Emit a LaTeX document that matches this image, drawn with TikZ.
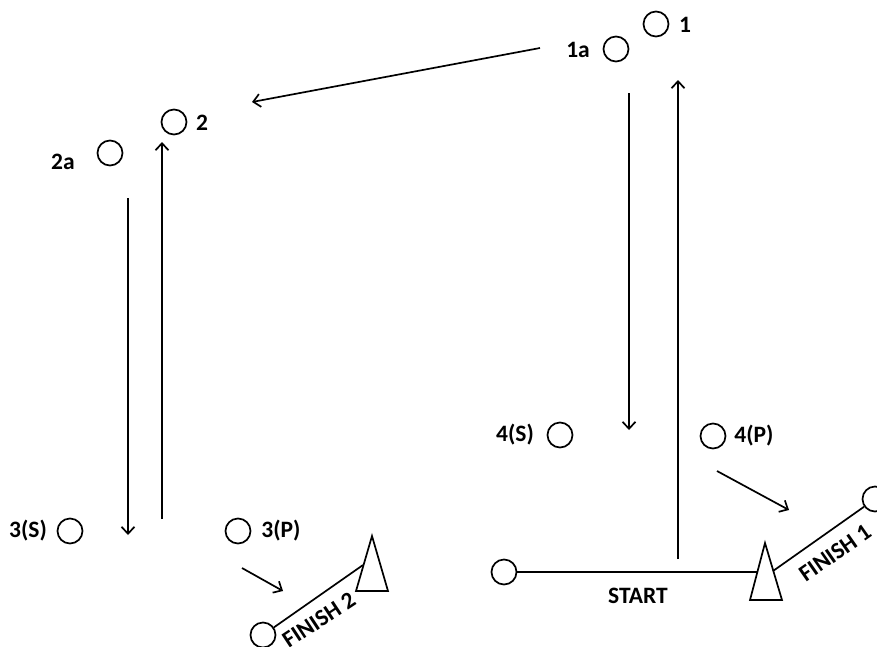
\documentclass[tikz,border=0pt]{standalone}
\usepackage{fontspec}
\setmainfont{Carlito}
\usetikzlibrary{arrows.meta}
\begin{document}
\begin{tikzpicture}[x=1pt,y=-1pt,line width=1.7pt,
  cone/.style={circle,draw,minimum size=25pt,inner sep=0pt},
  lab/.style={font=\bfseries\fontsize{23.5}{24}\selectfont,inner sep=0pt},
  arr/.style={-{Straight Barb[length=7pt,width=13pt,line width=1.7pt]}}]
\clip (0,0) rectangle (877,646);
\path[use as bounding box] (0,0) rectangle (877,646);
% cones
\node[cone] (c1) at (656,24) {};
\node[lab] (l1) at (685,25) {1};
\node[cone] (c1a) at (616,49) {};
\node[lab] (l1a) at (578,50) {1a};
\node[cone] (c2) at (174,122) {};
\node[lab] (l2) at (202,123) {2};
\node[cone] (c2a) at (110,153) {};
\node[lab] (l2a) at (63,162) {2a};
\node[cone] (c3s) at (70,531) {};
\node[lab] (l3s) at (28,531) {3(S)};
\node[cone] (c3p) at (238,531) {};
\node[lab] (l3p) at (281,531) {3(P)};
\node[cone] (c4s) at (560,435) {};
\node[lab] (l4s) at (515,435) {4(S)};
\node[cone] (c4p) at (713,436) {};
\node[lab] (l4p) at (754,436) {4(P)};
% start line
\node[cone] (cs) at (504,572) {};
\coordinate (t1a) at (765,543);
\coordinate (t1l) at (750,600);
\coordinate (t1r) at (782,600);
\draw (t1a) -- (t1l) -- (t1r) -- cycle;
\coordinate (sE) at (757,572);
\draw (cs) -- (sE);
\node[lab] (lstart) at (638,596) {START};
% finish 1
\node[cone] (cf1) at (875,499) {};
\coordinate (f1s) at (773,571);
\draw (f1s) -- (cf1);
\node[lab,rotate=35] (lf1) at (835,553) {FINISH 1};
% finish 2
\coordinate (t2a) at (372,536);
\coordinate (t2l) at (356,591);
\coordinate (t2r) at (388,591);
\draw (t2a) -- (t2l) -- (t2r) -- cycle;
\node[cone] (cf2) at (263,635) {};
\coordinate (f2s) at (363,565);
\draw (f2s) -- (cf2);
\node[lab,rotate=33.4] (lf2) at (319,620) {FINISH 2};
% arrows
\coordinate (a1s) at (678,559); \coordinate (a1e) at (678,80);
\draw[arr] (a1s) -- (a1e);
\coordinate (a2s) at (629,93); \coordinate (a2e) at (629,430);
\draw[arr] (a2s) -- (a2e);
\coordinate (a3s) at (540,48); \coordinate (a3e) at (252,102);
\draw[arr] (a3s) -- (a3e);
\coordinate (a4s) at (128,198); \coordinate (a4e) at (128,535);
\draw[arr] (a4s) -- (a4e);
\coordinate (a5s) at (162,519); \coordinate (a5e) at (162,142);
\draw[arr] (a5s) -- (a5e);
\coordinate (a6s) at (242,568); \coordinate (a6e) at (283,591);
\draw[arr] (a6s) -- (a6e);
\coordinate (a7s) at (717,471); \coordinate (a7e) at (789,510);
\draw[arr] (a7s) -- (a7e);
\end{tikzpicture}
\end{document}
